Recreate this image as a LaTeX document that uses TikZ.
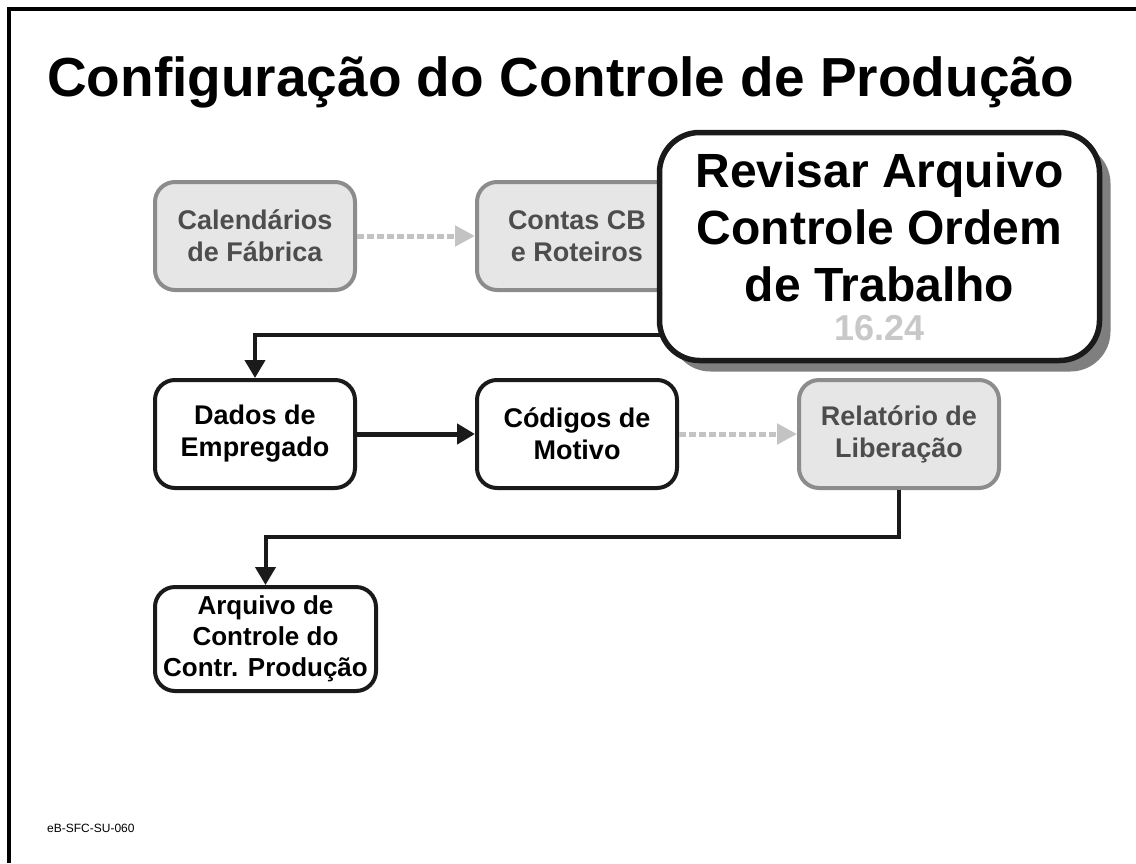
\documentclass[tikz,border=0pt]{standalone}
\usepackage{fontspec}
\setmainfont{Liberation Sans}
\usetikzlibrary{arrows.meta,shadows}
\definecolor{boxgray}{HTML}{E6E6E6}
\definecolor{edgegray}{HTML}{8C8C8C}
\definecolor{textgray}{HTML}{4D4D4D}
\definecolor{dotgray}{HTML}{C3C3C3}
\definecolor{numgray}{HTML}{C8C8C8}
\definecolor{shadowgray}{HTML}{7F7F7F}
\definecolor{inkblack}{HTML}{1A1A1A}
\tikzset{
    grayblock/.style={draw=edgegray, fill=boxgray, line width=4pt, rounded corners=20pt,
        minimum width=200pt, minimum height=108pt, inner sep=0pt, align=center,
        text=textgray, font=\fontsize{27}{32}\selectfont\bfseries},
    blackblock/.style={grayblock, draw=inkblack, fill=white, text=black},
    dotarrow/.style={dotgray, line width=5pt, dash pattern=on 7pt off 3pt,
        -{Triangle[length=20pt,width=20pt]}},
    flowarrow/.style={inkblack, line width=4pt, -{Triangle[length=18pt,width=20pt]}},
}

\begin{document}
\begin{tikzpicture}[x=1pt, y=-1pt]
        \useasboundingbox (0,0) rectangle (1136,863);

        % Frame and title
        \draw[line width=4pt] (9,863) -- (9,8.5) -- (1136,8.5);
        \node[anchor=base west, inner sep=0pt, font=\fontsize{55}{60}\selectfont\bfseries] (title) at (47,96) {Configuração do Controle de Produção};
        \node[anchor=base west, inner sep=0pt, font=\fontsize{12}{14}\selectfont] (footer) at (47,832) {eB-SFC-SU-060};

        % Top row
        \node[grayblock] (cal) at (255,236) {Calendários\\de Fábrica};
        \node[grayblock] (contas) at (577,236) {Contas CB\\e Roteiros};
        \draw[dotarrow] (cal) -- (contas);

        % Middle row
        \node[blackblock] (dados) at (255,434) {Dados de\\Empregado};
        \node[blackblock] (codigos) at (577,434) {Códigos de\\Motivo};
        \node[grayblock] (relat) at (899,434) {Relatório de\\Liberação};
        \draw[flowarrow, line width=5pt] (dados) -- (codigos);
        \draw[dotarrow] (codigos) -- (relat);

        % Bottom row
        \node[blackblock, minimum width=221pt, minimum height=104pt, font=\fontsize{26}{31}\selectfont\bfseries] (arq) at (265.5,639) {Arquivo de\\Controle do\\Contr. Produção};
        \coordinate (bend) at (899,537);
        \draw[flowarrow] (relat.south) -- (bend) -| (arq.north);

        % Highlighted step on top
        \coordinate (revout) at (700,335);
        \draw[flowarrow] (revout) -| (dados.north);
        \node[blackblock, line width=5.5pt, rounded corners=40pt, minimum width=440pt, minimum height=228pt,
            font=\fontsize{48}{57}\selectfont\bfseries,
            drop shadow={shadow xshift=11pt, shadow yshift=-11pt, fill=shadowgray, opacity=1}] (revisar) at (879.5,246.5)
            {Revisar Arquivo\\Controle Ordem\\de Trabalho\\[-18pt]{\fontsize{36}{40}\selectfont\color{numgray}16.24}};
    \end{tikzpicture}
\end{document}
